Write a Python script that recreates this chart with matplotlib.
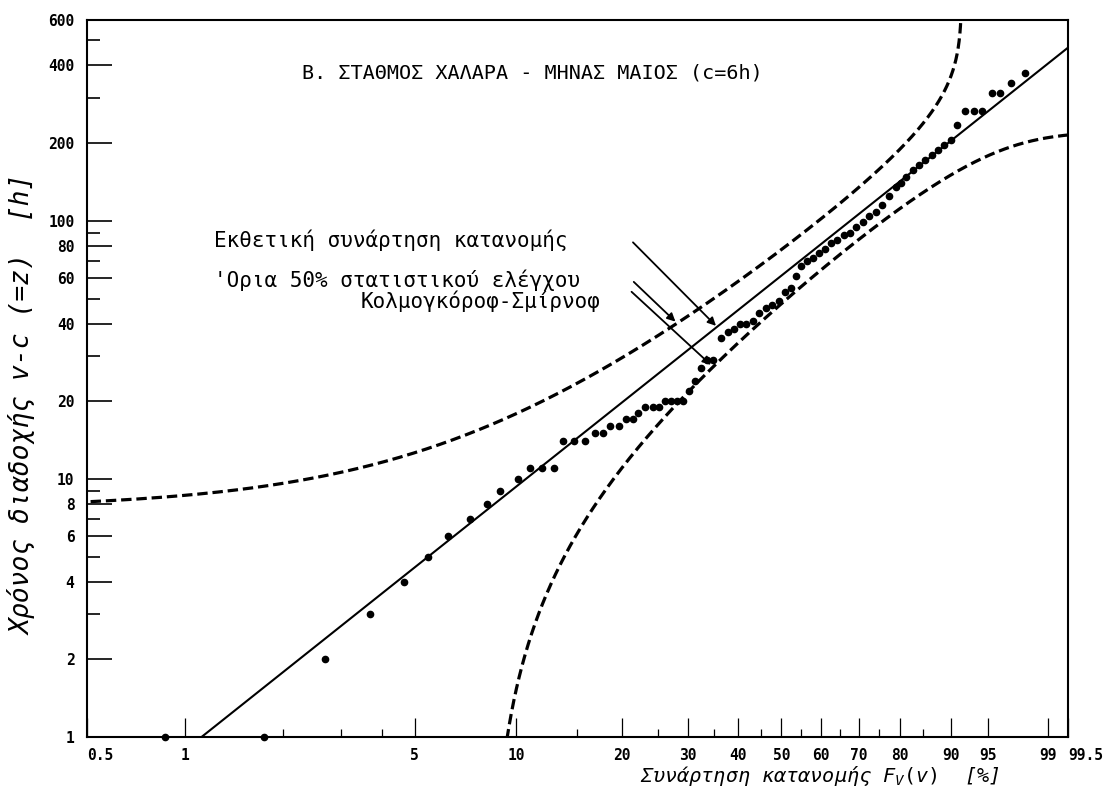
import numpy as np
import matplotlib.pyplot as plt

plt.rcParams['font.family'] = ['DejaVu Sans Mono', 'DejaVu Sans']
plt.rcParams['mathtext.fontset'] = 'custom'
plt.rcParams['mathtext.rm'] = 'DejaVu Sans Mono'
plt.rcParams['mathtext.it'] = 'DejaVu Sans Mono:oblique'
plt.rcParams['lines.scale_dashes'] = False

# fitted exponential: F(z) = 1 - exp(-z/theta), theta in hours
theta = 88.5
# half-width of the 50% Kolmogorov-Smirnov band
ks_d = 0.083

# empirical distribution F [%] against z = v - c [h]
F_obs = [0.87, 1.75, 2.68, 3.68, 4.63, 5.50, 6.31, 7.34, 8.19, 9.0,
         10.1, 11.0, 11.9, 12.9, 13.7, 14.7, 15.8, 16.8, 17.7, 18.6,
         19.6, 20.5, 21.4, 22.2, 23.2, 24.3, 25.2, 26.1, 27.1, 28.1,
         29.1, 30.2, 31.2, 32.4, 33.5, 34.7, 36.3, 37.7, 39.0, 40.3,
         41.6, 43.2, 44.6, 46.2, 47.7, 49.4, 50.8, 52.3, 53.6, 54.9,
         56.4, 58.0, 59.5, 61.1, 62.6, 64.2, 66.0, 67.6, 69.2, 70.9,
         72.5, 74.2, 75.7, 77.4, 79.0, 80.2, 81.3, 82.9, 84.1, 85.3,
         86.7, 87.8, 88.9, 90.1, 91.0, 92.2, 93.4, 94.4, 95.4, 96.2,
         97.1, 98.0]
z_obs = [1, 1, 2, 3, 4, 5, 6, 7, 8, 9,
         10, 11, 11, 11, 14, 14, 14, 15, 15, 16,
         16, 17, 17, 18, 19, 19, 19, 20, 20, 20,
         20, 22, 24, 27, 29, 29, 35, 37, 38, 40,
         40, 41, 44, 46, 47, 49, 53, 55, 61, 67,
         70, 72, 75, 78, 82, 84, 88, 90, 95, 99,
         104, 108, 115, 125, 135, 140, 148, 157, 165, 172,
         180, 188, 196, 206, 235, 266, 266, 266, 313, 313,
         342, 374]

x_ticks = [0.5, 1, 5, 10, 20, 30, 40, 50, 60, 70, 80, 90, 95, 99, 99.5]
x_tick_labels = ['0.5', '1', '5', '10', '20', '30', '40', '50', '60', '70',
                 '80', '90', '95', '99', '99.5']
x_minor = [2, 3, 4, 15, 25, 35, 45, 55, 65, 75, 85]
y_ticks = [1, 2, 4, 6, 8, 10, 20, 40, 60, 80, 100, 200, 400, 600]
y_minor = [3, 5, 7, 9, 30, 50, 70, 90, 300, 500]


def fwd(p):
    p = np.clip(np.asarray(p, dtype=float), 1e-6, 99.99999)
    return np.log10(-np.log(1 - p / 100))


def inv(x):
    return 100 * (1 - np.exp(-10 ** np.asarray(x, dtype=float)))


fig = plt.figure(figsize=(11.17, 7.99), dpi=100)
ax = fig.add_axes([87 / 1117, 62 / 799, 981 / 1117, 717 / 799])
ax.set_xscale('function', functions=(fwd, inv))
ax.set_yscale('log')
ax.set_xlim(0.5, 99.5)
ax.set_ylim(1, 600)

# fitted distribution and KS limits
z = np.geomspace(0.5, 800, 2000)
F = 100 * (1 - np.exp(-z / theta))
ax.plot(F, z, color='k', lw=1.5)
lo = F - 100 * ks_d
hi = F + 100 * ks_d
dash = (0, (7.5, 3.5))
ax.plot(np.where(lo > 1e-3, lo, np.nan), z, color='k', lw=2.3, ls=dash)
ax.plot(np.where(hi < 99.999, hi, np.nan), z, color='k', lw=2.3, ls=dash)

ax.plot(F_obs, z_obs, 'o', color='k', ms=4.5, clip_on=False)

# axes and ticks
for s in ax.spines.values():
    s.set_linewidth(1.5)
ax.set_xticks(x_ticks)
ax.set_xticklabels(x_tick_labels)
ax.set_xticks(x_minor, minor=True)
ax.set_yticks(y_ticks)
ax.set_yticklabels([str(v) for v in y_ticks])
ax.set_yticks(y_minor, minor=True)
ax.tick_params(axis='both', which='both', direction='in')
ax.tick_params(axis='y', which='major', length=18, width=1.2, pad=9)
ax.tick_params(axis='y', which='minor', length=9, width=1.2)
ax.tick_params(axis='x', which='major', length=14, width=0.9, pad=8)
ax.tick_params(axis='x', which='minor', length=6, width=0.9)
for lbl in ax.get_xticklabels() + ax.get_yticklabels():
    lbl.set_fontweight('bold')
    lbl.set_fontsize(10.5)
xl = ax.get_xticklabels()
xl[0].set_ha('left')
xl[-1].set_ha('left')


def ax_frac(px, py):
    return (px - 87) / 981, (737 - py) / 717


ax.text(*ax_frac(532, 73), 'Β. ΣΤΑΘΜΟΣ ΧΑΛΑΡΑ - ΜΗΝΑΣ ΜΑΙΟΣ (c=6h)',
        transform=ax.transAxes, ha='center', va='center', fontsize=14.5)
ax.text(*ax_frac(214, 240), 'Εκθετική συνάρτηση κατανομής',
        transform=ax.transAxes, ha='left', va='center', fontsize=15)
ax.text(*ax_frac(214, 280), "'Ορια 50% στατιστικού ελέγχου",
        transform=ax.transAxes, ha='left', va='center', fontsize=15)
ax.text(*ax_frac(600, 301), 'Κολμογκόροφ-Σμίρνοφ',
        transform=ax.transAxes, ha='right', va='center', fontsize=15)

arrow = dict(arrowstyle='-|>', color='k', lw=1.3, mutation_scale=12)
ax.annotate('', xy=(35.7, 38.5), xytext=(21.2, 84), arrowprops=arrow)
ax.annotate('', xy=(28.2, 40), xytext=(21.3, 59), arrowprops=arrow)
ax.annotate('', xy=(34.7, 27.2), xytext=(21.0, 54), arrowprops=arrow)

fig.text(23 / 1117, 1 - 405 / 799, 'Χρόνος διαδοχής v-c (=z)  [h]',
         rotation=90, ha='center', va='center', fontsize=19, style='italic')
fig.text(820 / 1117, 1 - 776 / 799, 'Συνάρτηση κατανομής $F_V(v)$  [%]',
         ha='center', va='center', fontsize=14.5, style='italic')

fig.savefig('out.png', dpi=100)
